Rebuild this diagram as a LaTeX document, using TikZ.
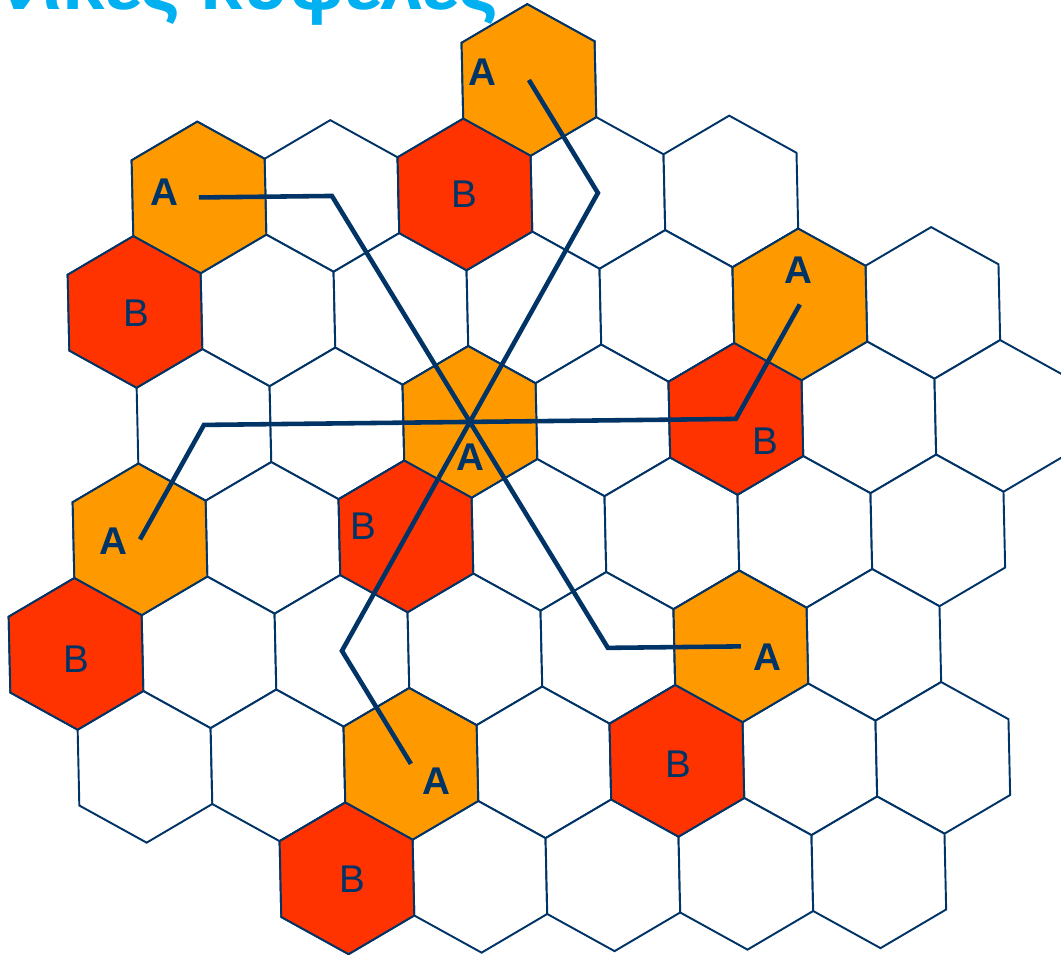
\documentclass[tikz,border=0pt]{standalone}
\usepackage{fontspec}
\setmainfont{Liberation Sans}
\usetikzlibrary{positioning}
\definecolor{navy}{RGB}{0,51,102}
\definecolor{cellA}{RGB}{255,153,0}
\definecolor{cellB}{RGB}{255,51,0}
\definecolor{sky}{RGB}{0,176,240}
\tikzset{
  hexline/.style={draw=navy,line width=1.1pt,line join=miter},
  link/.style={draw=navy,line width=2.6pt,line join=miter},
  lblA/.style={text=navy,inner sep=0pt,font=\fontsize{22}{26}\selectfont\bfseries},
  lblB/.style={text=navy,inner sep=0pt,font=\fontsize{22}{26}\selectfont},
  pics/cell/.style={code={
    \path[hexline,fill=#1] (1/3,-2/3) -- (2/3,-1/3) -- (1/3,1/3)
      -- (-1/3,2/3) -- (-2/3,1/3) -- (-1/3,-1/3) -- cycle;}},
  pics/cell/.default=white
}

\begin{document}
\begin{tikzpicture}[x=0.02cm,y=-0.02cm]
  \useasboundingbox (0,0) rectangle (1061,955);
  \clip (0,0) rectangle (1061,955);
  \node[anchor=base east,inner sep=0pt,text=sky,font=\fontsize{43.5}{50}\selectfont\bfseries]
    (title) at (499,10) {Ομοσυχνικές κυψέλες};

  % cell grid: x = one cell right, y = one cell down-right
  \begin{scope}[shift={(9.4cm,-8.44cm)},x={(2.66cm,0.03cm)},y={(1.38cm,-2.26cm)}]
    \foreach \r/\qa/\qb in {-3/2/2,-2/-1/3,-1/-2/4,0/-2/4,1/-3/3,2/-4/2,3/-4/2,4/-3/1}
      \foreach \q in {\qa,...,\qb}{
        \pic at (\q,\r) {cell};
        \coordinate (h\q_\r) at (\q,\r);
      }
    \foreach \q/\r in {2/-3,-1/-2,0/0,3/-1,-3/1,-2/3,1/2}
      \pic at (\q,\r) {cell=cellA};
    \foreach \q/\r in {1/-2,-2/-1,-1/1,2/0,-4/2,-3/4,0/3}
      \pic at (\q,\r) {cell=cellB};
  \end{scope}

  \draw[link] (h0_0) -- (h2_-2) -- (h2_-3);
  \draw[link] (h0_0) -- (h0_-2) -- (h-1_-2);
  \draw[link] (h0_0) -- (h-2_0) -- (h-3_1);
  \draw[link] (h0_0) -- (h-2_2) -- (h-2_3);
  \draw[link] (h0_0) -- (h0_2) -- (h1_2);
  \draw[link] (h0_0) -- (h2_0) -- (h3_-1);

  \node[lblA] (lA0) at (470,457) {A};
  \node[lblA] (lA1) at (482,72) {A};
  \node[lblA] (lA2) at (164,192) {A};
  \node[lblA] (lA3) at (798,270) {A};
  \node[lblA] (lA4) at (113,541) {A};
  \node[lblA] (lA5) at (767,657) {A};
  \node[lblA] (lA6) at (436,781) {A};
  \node[lblB] (lB1) at (464,194) {B};
  \node[lblB] (lB2) at (136,313) {B};
  \node[lblB] (lB3) at (765,441) {B};
  \node[lblB] (lB4) at (363,526) {B};
  \node[lblB] (lB5) at (76,659) {B};
  \node[lblB] (lB6) at (678,764) {B};
  \node[lblB] (lB7) at (352,879) {B};
\end{tikzpicture}
\end{document}
